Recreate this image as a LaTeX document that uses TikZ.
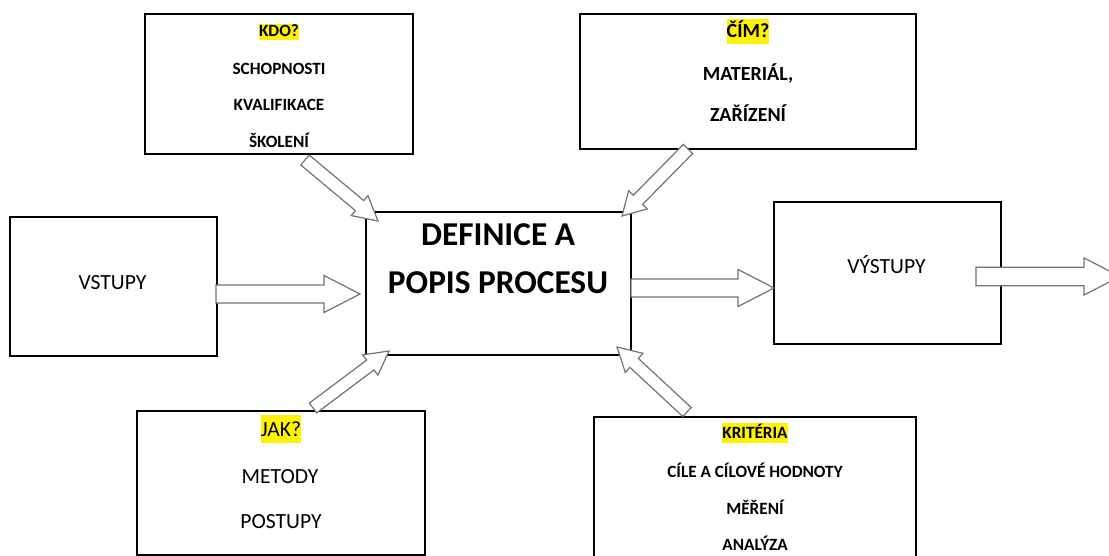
\documentclass[tikz,border=0pt]{standalone}
\usepackage{fontspec}
\setmainfont{Carlito}
\usetikzlibrary{calc,fit}

% yellow highlight: #1 height above baseline, #2 depth below, #3 text
\newcommand\hl[3]{{\setlength\fboxsep{0pt}\colorbox{yellow}{\rule[-#2]{0pt}{\dimexpr#1+#2\relax}#3}}}

% block arrow from #1 to #2; #3 shaft half width, #4 head half width, #5 head length
\newcommand\blockarrow[5]{%
  \draw[arrowline] let \p1=(#1), \p2=(#2), \n1={atan2(\y2-\y1,\x2-\x1)} in
    ($(\p1)+(\n1+90:#3)$)
    -- ($(\p2)+(\n1+180:#5)+(\n1+90:#3)$)
    -- ($(\p2)+(\n1+180:#5)+(\n1+90:#4)$)
    -- (\p2)
    -- ($(\p2)+(\n1+180:#5)+(\n1-90:#4)$)
    -- ($(\p2)+(\n1+180:#5)+(\n1-90:#3)$)
    -- ($(\p1)+(\n1-90:#3)$) -- cycle;}

\begin{document}
\begin{tikzpicture}[x=0.75pt,y=-0.75pt,
  box/.style={draw=black, line width=0.8pt, fill=white, inner sep=0pt},
  arrowline/.style={draw=black!55, line width=0.9pt, fill=white, line join=miter},
  lbl/.style={anchor=base, inner sep=0pt},
  smallbold/.style={lbl, font=\bfseries\fontsize{12.9}{15}\selectfont},
  midbold/.style={lbl, font=\bfseries\fontsize{15}{18}\selectfont},
  plain/.style={lbl, font=\fontsize{16.2}{19}\selectfont},
  bigbold/.style={lbl, font=\bfseries\fontsize{25}{30}\selectfont}]
\useasboundingbox (0,0) rectangle (1109,556);

% boxes
\node[box, fit={(145,14)(413,154)}] (kdo) {};
\node[box, fit={(580,14)(916,149)}] (cim) {};
\node[box, fit={(10,217)(217,356)}] (vstupy) {};
\node[box, fit={(366,212)(631,355)}] (proces) {};
\node[box, fit={(774,202)(1001,344)}] (vystupy) {};
\node[box, fit={(137,411)(425,555)}] (jak) {};
\node[box, fit={(594,417)(916,575)}] (krit) {};

% texts
\node[smallbold] (kdo1) at (279,37) {\hl{0.76em}{0.17em}{KDO?}};
\node[smallbold] (kdo2) at (279,74.5) {SCHOPNOSTI};
\node[smallbold] (kdo3) at (279,111) {KVALIFIKACE};
\node[smallbold] (kdo4) at (279,147) {ŠKOLENÍ};

\node[midbold] (cim1) at (748,38) {\hl{0.97em}{0.3em}{ČÍM?}};
\node[midbold] (cim2) at (748,81) {MATERIÁL,};
\node[midbold] (cim3) at (748,121.5) {ZAŘÍZENÍ};

\node[plain] (vst1) at (112.5,289) {VSTUPY};
\node[plain] (vyst1) at (886.5,273) {VÝSTUPY};

\node[bigbold] (proc1) at (498,245.5) {DEFINICE A};
\node[bigbold] (proc2) at (498,293) {POPIS PROCESU};

\node[plain] (jak1) at (281,436) {\hl{0.98em}{0.33em}{JAK?}};
\node[plain] (jak2) at (280,483) {METODY};
\node[plain] (jak3) at (281,528) {POSTUPY};

\node[smallbold] (krit1) at (755,438) {\hl{0.87em}{0.29em}{KRITÉRIA}};
\node[smallbold] (krit2) at (755,477) {CÍLE A CÍLOVÉ HODNOTY};
\node[smallbold] (krit3) at (755,514) {MĚŘENÍ};
\node[smallbold] (krit4) at (755,550) {ANALÝZA};

% arrow ends
\coordinate (inT) at (216,294);   \coordinate (inH) at (360,294);
\coordinate (outT) at (631,288);  \coordinate (outH) at (774,288);
\coordinate (endT) at (976,276.5);\coordinate (endH) at (1120,276.5);
\coordinate (kdoT) at (305,160);  \coordinate (kdoH) at (378,221);
\coordinate (cimT) at (688,149);  \coordinate (cimH) at (622,216);
\coordinate (jakT) at (313,408);  \coordinate (jakH) at (389,351);
\coordinate (kritT) at (687,412); \coordinate (kritH) at (617,347);

% block arrows
\blockarrow{inT}{inH}{6.75pt}{13.9pt}{27pt}
\blockarrow{outT}{outH}{6.75pt}{13.9pt}{27pt}
\blockarrow{endT}{endH}{7pt}{13.9pt}{27pt}
\blockarrow{kdoT}{kdoH}{4.9pt}{9.75pt}{18pt}
\blockarrow{cimT}{cimH}{4.9pt}{9.75pt}{17pt}
\blockarrow{jakT}{jakH}{4.6pt}{9.5pt}{17.5pt}
\blockarrow{kritT}{kritH}{4.6pt}{9.75pt}{17.5pt}
\end{tikzpicture}
\end{document}
